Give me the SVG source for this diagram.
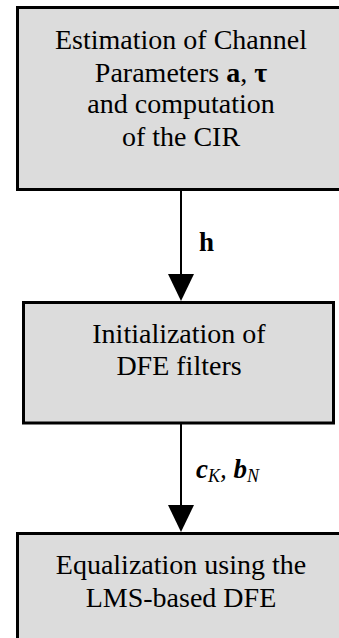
<svg xmlns="http://www.w3.org/2000/svg" width="339" height="638" viewBox="0 0 339 638">
<style>
.box{fill:#dcdcdc;stroke:#000;stroke-width:3}
.t{font-family:"Liberation Serif","Times New Roman",serif;font-size:28px;fill:#000;text-anchor:middle}
.lbl{font-family:"Liberation Serif","Times New Roman",serif;font-size:27px;fill:#000}
.edge{stroke:#000;stroke-width:2;fill:none}
.head{fill:#000}
</style>
<rect x="0" y="0" width="339" height="638" fill="#fff"/>
<g id="node-estimation">
<rect class="box" x="17.5" y="7.5" width="340" height="182"/>
<text class="t" x="181" y="49">Estimation of Channel</text>
<text class="t" x="181" y="82">Parameters <tspan font-weight="bold">a</tspan>, <tspan font-weight="bold">τ</tspan></text>
<text class="t" x="181" y="113">and computation</text>
<text class="t" x="181" y="146">of the CIR</text>
</g>
<g id="node-init">
<rect class="box" x="23.5" y="302.5" width="310" height="120.5"/>
<text class="t" x="179" y="343">Initialization of</text>
<text class="t" x="179" y="375">DFE filters</text>
</g>
<g id="node-eq">
<rect class="box" x="17.5" y="533.5" width="340" height="120"/>
<text class="t" x="181" y="574">Equalization using the</text>
<text class="t" x="181" y="607">LMS-based DFE</text>
</g>
<g id="connectors">
<line class="edge" x1="181" y1="191" x2="181" y2="275"/>
<polygon class="head" points="168,274 194,274 181,301"/>
<text class="lbl" x="199" y="251" font-weight="bold">h</text>
<line class="edge" x1="181" y1="424" x2="181" y2="506"/>
<polygon class="head" points="168,505 194,505 181,532"/>
<text class="lbl" x="196" y="478"><tspan font-weight="bold" font-style="italic">c</tspan><tspan font-style="italic" font-size="18" dy="4">K</tspan><tspan font-style="italic" dy="-4">, </tspan><tspan font-weight="bold" font-style="italic">b</tspan><tspan font-style="italic" font-size="18" dy="4">N</tspan></text>
</g>
</svg>
